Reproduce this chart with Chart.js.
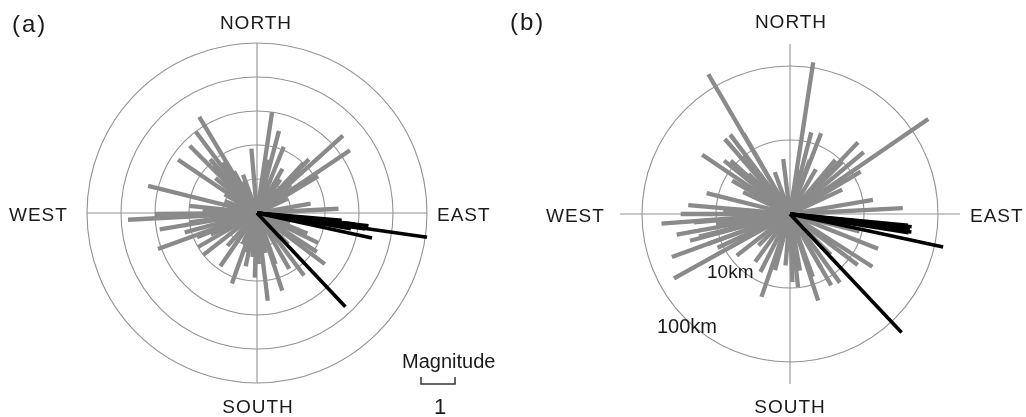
<!DOCTYPE html>
<html>
<head>
<meta charset="utf-8">
<script src="https://cdn.jsdelivr.net/npm/chart.js@4.4.1/dist/chart.umd.min.js"></script>
<style>
  body { margin: 0; background: #fff; width: 1026px; height: 417px; position: relative; overflow: hidden;
         font-family: "Liberation Sans", Arial, sans-serif; color: #1a1a1a; }
  canvas { position: absolute; }
  .lbl { position: absolute; font-size: 19px; line-height: 19px; white-space: nowrap; letter-spacing: 1px; }
  .c { transform: translateX(-50%); }
</style>
</head>
<body>
<canvas id="roseA" width="440" height="400" style="left:37px;top:33px"></canvas>
<canvas id="roseB" width="360" height="360" style="left:610px;top:34px"></canvas>

<div class="lbl" style="left:12px;top:12px;font-size:24px;line-height:24px;letter-spacing:2px">(a)</div>
<div class="lbl c" style="left:256px;top:13px">NORTH</div>
<div class="lbl c" style="left:258px;top:397px">SOUTH</div>
<div class="lbl" style="left:9px;top:205px">WEST</div>
<div class="lbl" style="left:437px;top:205px">EAST</div>
<div class="lbl" style="left:402px;top:351px;font-size:20px;line-height:20px;letter-spacing:0">Magnitude</div>
<div class="lbl c" style="left:440px;top:396px;font-size:22px;line-height:22px;letter-spacing:0">1</div>

<div class="lbl" style="left:510px;top:10px;font-size:24px;line-height:24px;letter-spacing:2px">(b)</div>
<div class="lbl c" style="left:791px;top:12px">NORTH</div>
<div class="lbl c" style="left:790px;top:397px">SOUTH</div>
<div class="lbl" style="left:546px;top:206px">WEST</div>
<div class="lbl" style="left:970px;top:206px">EAST</div>
<div class="lbl" style="left:707px;top:262px;letter-spacing:0">10km</div>
<div class="lbl" style="left:657px;top:316px;font-size:20px;line-height:20px;letter-spacing:0">100km</div>

<script>
// (a) azimuth (degrees clockwise from north) and magnitude of each ray
const azimuthA = [355, 8.5, 15, 22, 12, 43, 44, 48, 56, 59, 45, 35, 80, 87, 65, 30, 50,
  329, 323, 315, 304, 319, 317, 326, 312, 331, 284, 340, 300, 290, 310, 322, 335,
  267, 269.5, 276, 273, 260.5, 255, 250, 248, 240, 232, 264, 258, 262, 270, 245,
  214.6, 199.6, 192, 222, 205, 186, 195,
  178, 173, 162, 150, 143, 160, 127, 123, 116, 112, 135, 168, 105, 182, 175, 140];
const magnitudeA = [1.9, 3.0, 2.5, 2.1, 1.6, 2.0, 2.2, 3.4, 3.3, 2.1, 1.75, 1.2, 1.6, 2.4, 1.0, 1.5, 1.3,
  3.3, 3.0, 2.8, 2.8, 2.1, 1.9, 1.8, 1.2, 1.4, 3.3, 1.2, 1.1, 1.0, 1.6, 1.5, 1.0,
  3.8, 3.0, 2.0, 1.6, 2.9, 2.2, 3.1, 1.9, 2.0, 2.0, 1.4, 1.2, 2.0, 1.3, 1.5,
  1.9, 2.2, 1.6, 1.3, 1.0, 1.3, 1.2,
  1.5, 2.6, 2.4, 1.9, 2.3, 1.6, 2.5, 2.1, 2.0, 1.6, 1.3, 1.2, 1.0, 1.9, 1.0, 1.0];
const blackAzimuthA = [98.1, 102.3, 96.5, 98.4, 97.5, 96.4, 95, 99.5, 136.7];
const blackMagnitudeA = [5.05, 3.46, 3.3, 3.22, 3.1, 2.9, 2.5, 2.8, 3.79];
const ringsA = [1, 2, 3, 4, 5];

// (b) azimuth and distance in km (radius drawn on a log scale)
const azimuthB = [8.7, 14.6, 21, 353, 43.5, 50, 59, 45, 55.5, 80.4, 87, 30, 65, 10, 40, 20,
  329.7, 323, 319, 330, 304, 309, 314, 284, 275, 340, 295, 320, 312, 300,
  270, 265.7, 259.7, 256, 250, 241, 232, 245, 262, 207, 216, 199, 195, 225, 272, 265, 255, 250,
  178, 173.7, 162, 150, 144, 127, 122.6, 111.5, 135, 185, 104, 160, 170, 150];
const distanceB = [118, 13.8, 14.8, 5.6, 21.6, 20, 13, 10, 185, 13.7, 33.6, 5, 6, 4, 9, 6,
  154, 22, 22, 18, 27, 14, 6, 14.5, 24, 4, 5, 10, 12, 8,
  30, 55, 36, 18.5, 50, 62, 8.2, 12, 10, 7.6, 6.3, 15.3, 6.1, 4, 8, 20, 25, 15,
  8.3, 9.8, 17, 13, 14, 14, 21, 19, 6, 5, 9.3, 8, 6, 7];
const blackAzimuthB = [102.2, 98.4, 96, 97, 95.5, 99, 136.7];
const blackDistanceB = [131, 45.6, 45, 43, 40, 42, 158];
const ringsB = [10, 100];

const GRAY = '#8a8a8a';

function rayDatasets(az, len, toRadius, color, width, order) {
  return az.map((a, i) => {
    const r = toRadius(len[i]);
    const t = a * Math.PI / 180;
    return {
      data: [{ x: 0, y: 0 }, { x: r * Math.sin(t), y: r * Math.cos(t) }],
      showLine: true,
      borderColor: color,
      borderWidth: width,
      borderCapStyle: 'butt',
      pointRadius: 0,
      order: order
    };
  });
}

// circles + cross drawn under the rays, in data units
const roseGrid = {
  id: 'roseGrid',
  beforeDatasetsDraw(chart, args, opts) {
    const { ctx, scales: { x, y } } = chart;
    const cx = x.getPixelForValue(0), cy = y.getPixelForValue(0);
    ctx.save();
    ctx.strokeStyle = '#939393';
    ctx.lineWidth = 1.1;
    opts.rings.forEach(v => {
      const r = x.getPixelForValue(v) - cx;
      ctx.beginPath();
      ctx.arc(cx, cy, r, 0, Math.PI * 2);
      ctx.stroke();
    });
    const a = x.getPixelForValue(opts.axisLen) - cx;
    ctx.beginPath();
    ctx.moveTo(cx - a, cy); ctx.lineTo(cx + a, cy);
    ctx.moveTo(cx, cy - a); ctx.lineTo(cx, cy + a);
    ctx.stroke();
    if (opts.bracket) {
      // magnitude scale bar: one unit wide
      const w = x.getPixelForValue(1) - cx;
      const bx = cx + opts.bracket.dx, by = cy + opts.bracket.dy;
      ctx.strokeStyle = '#333';
      ctx.lineWidth = 1.5;
      ctx.beginPath();
      ctx.moveTo(bx, by); ctx.lineTo(bx, by + 7);
      ctx.lineTo(bx + w, by + 7); ctx.lineTo(bx + w, by);
      ctx.stroke();
    }
    ctx.restore();
  }
};

function makeRose(id, datasets, xr, yMin, yMax, gridOpts) {
  return new Chart(document.getElementById(id), {
    type: 'scatter',
    data: { datasets: datasets },
    options: {
      responsive: false,
      animation: false,
      events: [],
      layout: { padding: 0 },
      plugins: { legend: { display: false }, tooltip: { enabled: false }, roseGrid: gridOpts },
      scales: {
        x: { type: 'linear', display: false, min: -xr, max: xr },
        y: { type: 'linear', display: false, min: yMin, max: yMax }
      }
    },
    plugins: [roseGrid]
  });
}

// (a): 34 px per magnitude unit
const pxA = 34;
const linA = v => v;
makeRose('roseA',
  rayDatasets(blackAzimuthA, blackMagnitudeA, linA, '#000', 3.6, 0)
    .concat(rayDatasets(azimuthA, magnitudeA, linA, GRAY, 4.3, 1)),
  220 / pxA, -220 / pxA, 180 / pxA,
  { rings: ringsA, axisLen: 5, bracket: { dx: 164, dy: 164 } });

// (b): 74 px per decade of distance
const pxB = 74;
const logB = d => Math.log10(d);
makeRose('roseB',
  rayDatasets(blackAzimuthB, blackDistanceB, logB, '#000', 3.6, 0)
    .concat(rayDatasets(azimuthB, distanceB, logB, GRAY, 4.3, 1)),
  180 / pxB, -180 / pxB, 180 / pxB,
  { rings: ringsB.map(logB), axisLen: 170 / pxB });
</script>
</body>
</html>
